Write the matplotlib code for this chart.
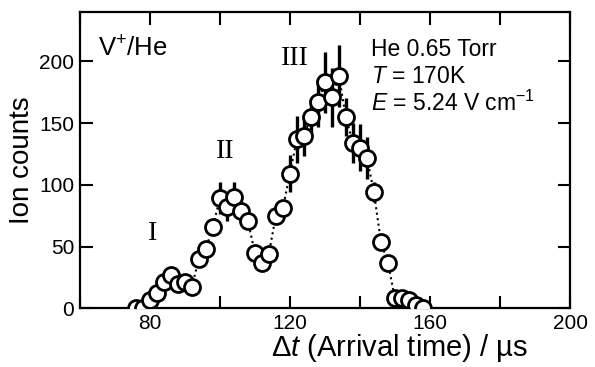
import numpy as np
import matplotlib
matplotlib.use("Agg")
import matplotlib.pyplot as plt
from matplotlib.ticker import MultipleLocator, FuncFormatter

# arrival time (us) and ion counts
t = [76, 78, 80, 82, 84, 86, 88, 90, 92, 94, 96, 98, 100, 102, 104, 106,
     108, 110, 112, 114, 116, 118, 120, 122, 124, 126, 128, 130, 132, 134,
     136, 138, 140, 142, 144, 146, 148, 150, 152, 154, 156, 158]
counts = [0, 0, 7, 12, 21, 27, 20, 21, 17, 40, 48, 66, 89, 82, 90, 79,
          71, 45, 37, 44, 75, 81, 109, 137, 140, 155, 167, 183, 171, 188,
          155, 134, 130, 122, 94, 54, 37, 8, 8, 7, 3, 0]
err = [0, 0, 0, 0, 0, 0, 0, 0, 0, 0, 0, 0, 13, 11, 12, 8,
       6, 5, 5, 5, 6, 7, 15, 19, 17, 15, 20, 25, 24, 25,
       15, 16, 19, 17, 8, 5, 0, 0, 0, 0, 0, 0]

peak_labels = ["I", "II", "III"]
peak_pos = [(80.7, 55), (101.4, 122), (121.3, 197.5)]

plt.rcParams['font.family'] = ['Liberation Sans', 'DejaVu Sans']
plt.rcParams['mathtext.fontset'] = 'custom'
plt.rcParams['mathtext.rm'] = 'Liberation Sans'
plt.rcParams['mathtext.it'] = 'Liberation Sans:italic'

fig = plt.figure(figsize=(5.95, 3.67), dpi=100)
ax = fig.add_axes([0.134, 0.16, 0.824, 0.807])

ax.plot(t, counts, ls=':', color='k', lw=1.5, zorder=1)
ax.errorbar(t, counts, yerr=err, fmt='none', ecolor='k', elinewidth=2.4,
            capsize=0, zorder=2)
ax.plot(t, counts, 'o', ms=11.5, mfc='white', mec='k', mew=2, zorder=3)

ax.set_xlim(60, 200)
ax.set_ylim(0, 240)
ax.xaxis.set_major_locator(MultipleLocator(20))
ax.xaxis.set_major_formatter(FuncFormatter(lambda v, p: f"{v:.0f}" if v % 40 == 0 else ""))
ax.yaxis.set_major_locator(MultipleLocator(50))
ax.tick_params(direction='in', length=9, width=1.5, top=True, right=True,
               labelsize=15, pad=4)
for s in ax.spines.values():
    s.set_linewidth(1.6)

ax.set_xlabel("Δ$t$ (Arrival time) / µs", fontsize=21, va='center')
ax.xaxis.set_label_coords(0.653, -0.135)
ax.set_ylabel("Ion counts", fontsize=20, labelpad=3)

ax.text(65.1, 204, "V$^{+}$/He", fontsize=18.5, va='baseline')
for lab, (x, y) in zip(peak_labels, peak_pos):
    ax.text(x, y, lab, fontsize=20, family='Liberation Serif',
            ha='center', va='baseline')

ax.text(143.3, 204.8, "He 0.65 Torr", fontsize=16.5, va='baseline')
ax.text(143.3, 182.4, "$T$ = 170K", fontsize=16.5, va='baseline')
ax.text(143.3, 160.3, "$E$ = 5.24 V cm$^{-1}$", fontsize=16.5, va='baseline')

fig.savefig("out.png", dpi=100)
